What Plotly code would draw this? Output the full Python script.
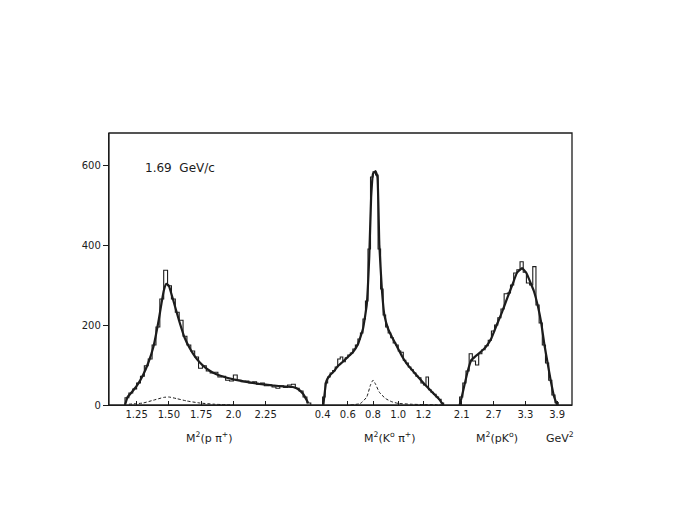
import plotly.graph_objects as go

# ---------------- data ----------------
# Panel 1: M^2(p pi+)
p1_lo, p1_w = 1.16, 0.03
p1_hist = [18, 30, 40, 55, 72, 98, 115, 150, 195, 265, 337, 298, 265, 232, 212,
           172, 150, 135, 120, 92, 98, 85, 80, 82, 70, 72, 62, 60, 75, 62,
           58, 60, 55, 58, 52, 55, 48, 50, 45, 42, 48, 44, 50, 52, 42, 35, 20, 5]
p1_fit_x = [1.16, 1.18, 1.22, 1.26, 1.30, 1.34, 1.38, 1.42, 1.46, 1.48, 1.50, 1.54, 1.58,
            1.62, 1.66, 1.70, 1.74, 1.78, 1.82, 1.86, 1.90, 1.95, 2.00, 2.10, 2.20, 2.30,
            2.40, 2.46, 2.50, 2.54, 2.58]
p1_fit_y = [0, 20, 35, 52, 75, 105, 145, 210, 285, 303, 298, 255, 210,
            170, 143, 122, 106, 94, 85, 78, 73, 68, 64, 58, 53, 49,
            46, 45, 40, 28, 5]
p1_bg_x = [1.19, 1.30, 1.38, 1.46, 1.50, 1.56, 1.64, 1.74, 1.85, 2.00]
p1_bg_y = [2, 5, 12, 19, 20, 16, 10, 5, 2, 0]

# Panel 2: M^2(K0 pi+)
p2_lo, p2_w = 0.40, 0.02
p2_hist = [20, 55, 70, 80, 86, 95, 115, 120, 108, 118, 125, 130, 140, 150, 165, 180,
           215, 260, 390, 570, 583, 575, 390, 290, 225, 195, 180, 168, 155, 150, 135, 132,
           112, 105, 95, 88, 80, 72, 68, 55, 50, 70, 38, 32, 27, 20, 14, 5]
p2_fit_x = [0.406, 0.43, 0.46, 0.49, 0.52, 0.56, 0.60, 0.64, 0.68, 0.72, 0.75, 0.77, 0.785,
            0.80, 0.82, 0.835, 0.85, 0.87, 0.89, 0.92, 0.95, 0.99, 1.03, 1.07, 1.13, 1.20,
            1.27, 1.32, 1.359]
p2_fit_y = [0, 60, 75, 84, 97, 108, 120, 132, 152, 190, 250, 370, 520,
            578, 585, 570, 400, 290, 225, 190, 170, 146, 122, 102, 80, 55,
            32, 16, 0]
p2_bg_x = [0.62, 0.70, 0.75, 0.78, 0.80, 0.82, 0.85, 0.90, 0.95, 1.00, 1.10, 1.20, 1.30, 1.36]
p2_bg_y = [0, 4, 20, 50, 62, 52, 32, 16, 8, 4, 2, 1, 0.5, 0]

# Panel 3: M^2(p K0)
p3_lo, p3_w = 2.06, 0.06
p3_hist = [20, 55, 85, 128, 110, 100, 128, 138, 148, 162, 185, 200, 218, 240, 278, 280,
           300, 330, 338, 358, 332, 305, 300, 346, 250, 205, 150, 105, 62, 25, 6]
p3_fit_x = [2.06, 2.10, 2.16, 2.22, 2.28, 2.36, 2.46, 2.56, 2.66, 2.76, 2.86, 2.96, 3.06,
            3.14, 3.24, 3.32, 3.40, 3.46, 3.54, 3.60, 3.66, 3.72, 3.78, 3.84, 3.90]
p3_fit_y = [0, 20, 55, 88, 112, 122, 133, 146, 167, 200, 232, 268, 302,
            330, 342, 330, 305, 285, 245, 205, 150, 105, 60, 22, 0]

# axis ticks
x1_ticks = [1.25, 1.50, 1.75, 2.0, 2.25]
x1_labels = ["1.25", "1.50", "1.75", "2.0", "2.25"]
x2_ticks = [0.4, 0.6, 0.8, 1.0, 1.2]
x2_labels = ["0.4", "0.6", "0.8", "1.0", "1.2"]
x3_ticks = [2.1, 2.7, 3.3, 3.9]
x3_labels = ["2.1", "2.7", "3.3", "3.9"]
y_ticks = [0, 200, 400, 600]

INK = "#1c1c1c"
FONT = "DejaVu Sans"


def step_xy(lo, w, vals):
    edges = [lo + i * w for i in range(len(vals) + 1)]
    xs = [edges[0]] + edges[:-1] + [edges[-1]]
    ys = [0] + list(vals) + [0]
    return xs, ys


fig = go.Figure()
panels = [
    ("x", p1_lo, p1_w, p1_hist, p1_fit_x, p1_fit_y, p1_bg_x, p1_bg_y),
    ("x2", p2_lo, p2_w, p2_hist, p2_fit_x, p2_fit_y, p2_bg_x, p2_bg_y),
    ("x3", p3_lo, p3_w, p3_hist, p3_fit_x, p3_fit_y, None, None),
]
for xa, lo, w, hist, fx, fy, bx, by in panels:
    hx, hy = step_xy(lo, w, hist)
    fig.add_trace(go.Scatter(x=hx, y=hy, xaxis=xa, yaxis="y", mode="lines",
                             line=dict(color=INK, width=1.1, shape="hv"),
                             showlegend=False, hoverinfo="skip"))
    fig.add_trace(go.Scatter(x=fx, y=fy, xaxis=xa, yaxis="y", mode="lines",
                             line=dict(color=INK, width=2.2, shape="spline", smoothing=0.35),
                             showlegend=False, hoverinfo="skip"))
    if bx is not None:
        fig.add_trace(go.Scatter(x=bx, y=by, xaxis=xa, yaxis="y", mode="lines",
                                 line=dict(color=INK, width=1.0, dash="3px,2px",
                                           shape="spline", smoothing=0.5),
                                 showlegend=False, hoverinfo="skip"))

xcommon = dict(showline=True, linecolor=INK, linewidth=1.3, ticks="inside", ticklen=4,
               tickcolor=INK, showgrid=False, zeroline=False, anchor="y",
               tickfont=dict(family=FONT, size=10, color=INK))

fig.update_layout(
    width=690, height=517,
    margin=dict(l=101, r=126, t=125, b=120),
    paper_bgcolor="white", plot_bgcolor="white",
    xaxis=dict(domain=[0, 0.445], range=[1.036, 2.633], tickvals=x1_ticks,
               ticktext=x1_labels, **xcommon),
    xaxis2=dict(domain=[0.445, 0.741], range=[0.340, 1.427], tickvals=x2_ticks,
                ticktext=x2_labels, **xcommon),
    xaxis3=dict(domain=[0.741, 1.0], range=[1.918, 4.18], tickvals=x3_ticks,
                ticktext=x3_labels, **xcommon),
    yaxis=dict(range=[0, 680], tickvals=y_ticks, ticks="outside", ticklen=5,
               tickcolor=INK, showline=True, linecolor=INK, linewidth=1.3,
               showgrid=False, zeroline=False, anchor="x",
               tickfont=dict(family=FONT, size=10, color=INK)),
    yaxis2=dict(range=[0, 680], tickvals=y_ticks, ticks="inside", ticklen=5,
                tickcolor=INK, showticklabels=False, overlaying="y", side="right",
                anchor="x3", showline=True, linecolor=INK, linewidth=1.3,
                showgrid=False, zeroline=False),
    shapes=[dict(type="rect", xref="paper", yref="paper", x0=0, x1=1, y0=0, y1=1,
                 line=dict(color=INK, width=1.3))],
    annotations=[
        dict(text="1.69  GeV/c", xref="paper", yref="paper", x=0.073, y=0.871,
             xanchor="left", yanchor="middle", showarrow=False,
             font=dict(family=FONT, size=12, color=INK)),
        dict(text="M<sup>2</sup>(p π<sup>+</sup>)", xref="paper", yref="paper",
             x=0.218, y=-0.121, showarrow=False, xanchor="center", yanchor="middle",
             font=dict(family=FONT, size=11, color=INK)),
        dict(text="M<sup>2</sup>(K<sup>o</sup> π<sup>+</sup>)", xref="paper", yref="paper",
             x=0.607, y=-0.121, showarrow=False, xanchor="center", yanchor="middle",
             font=dict(family=FONT, size=11, color=INK)),
        dict(text="M<sup>2</sup>(pK<sup>o</sup>)", xref="paper", yref="paper",
             x=0.838, y=-0.121, showarrow=False, xanchor="center", yanchor="middle",
             font=dict(family=FONT, size=11, color=INK)),
        dict(text="GeV<sup>2</sup>", xref="paper", yref="paper",
             x=0.974, y=-0.121, showarrow=False, xanchor="center", yanchor="middle",
             font=dict(family=FONT, size=11, color=INK)),
    ],
)

fig.write_html("out.html")
